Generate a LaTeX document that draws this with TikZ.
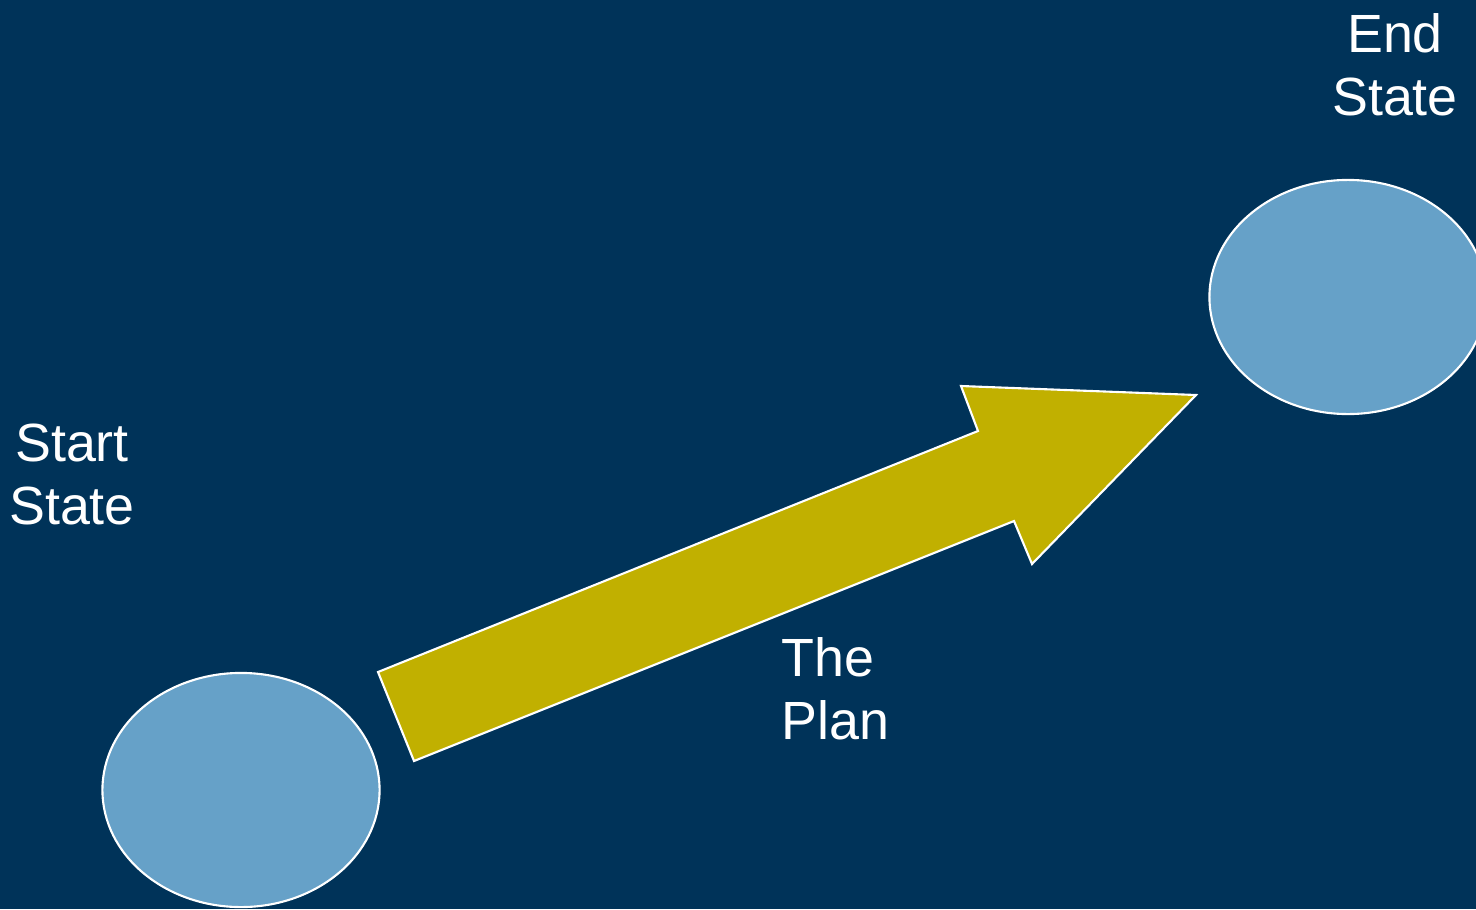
\documentclass[tikz,border=0pt]{standalone}
\usepackage{fontspec}
\setmainfont{Liberation Sans}
\usepackage{xcolor}
\usetikzlibrary{shapes.geometric}

\definecolor{navybg}{RGB}{0,51,89}
\definecolor{stateblue}{RGB}{102,161,200}
\definecolor{planolive}{RGB}{193,176,0}

\begin{document}
\begin{tikzpicture}[x=0.01cm, y=-0.01cm,
    statenode/.style={ellipse, draw=white, line width=0.6pt, fill=stateblue,
        minimum width=2.77cm, minimum height=2.34cm, inner sep=0pt},
    statetext/.style={text=white, inner sep=0pt,
        font=\fontsize{15.3}{17.9}\selectfont}]
    % Background
    \useasboundingbox (0,0) rectangle (1476,909);
    \clip (0,0) rectangle (1476,909);
    \fill[navybg] (0,0) rectangle (1476,909);

    % States
    \node[statenode] (start) at (241,790) {};
    \node[statenode] (end) at (1348,297) {};

    % The plan arrow
    \draw[fill=planolive, draw=white, line width=0.6pt]
        (378,672) -- (414,761) -- (1014,521) -- (1032,564)
        -- (1196,395) -- (961,386) -- (978,431) -- cycle;

    % Labels
    \node[statetext, align=center] (startlabel) at (72,474) {Start\\State};
    \node[statetext, align=center] (endlabel) at (1395,65) {End\\State};
    \node[statetext, align=left, anchor=west] (planlabel) at (781,689) {The\\Plan};
\end{tikzpicture}
\end{document}
